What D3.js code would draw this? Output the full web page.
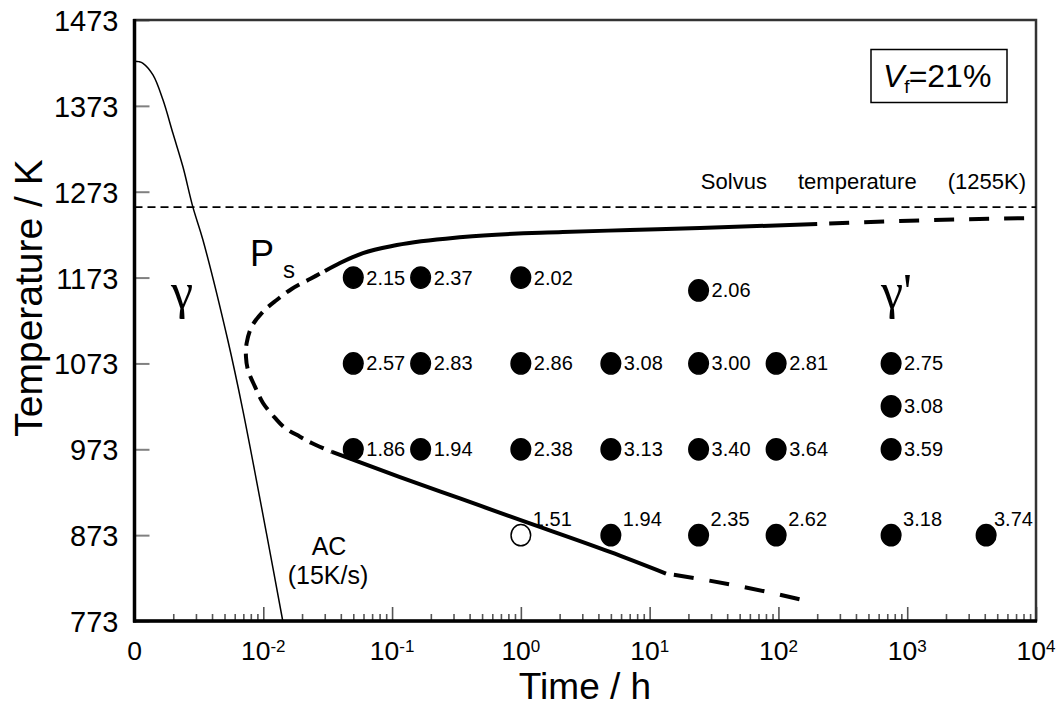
<!DOCTYPE html>
<html><head><meta charset="utf-8">
<script src="https://cdn.jsdelivr.net/npm/d3@7"></script>
<style>
body{margin:0;background:#fff}
svg{display:block}
text{font-family:"Liberation Sans",Arial,Helvetica,sans-serif;fill:#000}
</style>
</head><body>
<svg id="chart" width="1063" height="707"></svg>
<script>
// ---------------- data ----------------
const xDomain = [0.001, 10000];           // "0" is drawn at 10^-3
const yDomain = [773, 1473];
const yTickValues = [773, 873, 973, 1073, 1173, 1273, 1373, 1473];
const xMajorValues = [0.001, 0.01, 0.1, 1, 10, 100, 1000, 10000];
const xMajorBase = ["0", "10", "10", "10", "10", "10", "10", "10"];
const xMajorExp  = ["", "-2", "-1", "0", "1", "2", "3", "4"];

const solvusTemp = 1255;

// air cooling curve (15 K/s): [time h, temperature K]
const acCurve = [[0.001,1425],[0.00108,1424.5],[0.001164,1422.6],[0.001391,1409],[0.001663,1380],[0.001988,1341],
  [0.002377,1302],[0.002841,1255],[0.003396,1217],[0.005305,1100],[0.00693,1019],[0.01065,873],[0.01417,773]];

// Ps precipitation start curve
const psUpperSolid = [[0.0301,1180.7],[0.0394,1190],[0.0594,1201.6],[0.109,1210.9],[0.355,1220.3],
  [2.12,1226],[7.03,1228.4],[24.6,1230.7],[200,1235.4]];
const psUpperDashed = [[200,1235.4],[877,1238.9],[10000,1242.4]];
const psNose = [[0.0301,1180.7],[0.02305,1171.3],[0.01661,1159.7],[0.01271,1146.9],[0.009947,1133.3],
  [0.008128,1115.8],[0.00743,1096.8],[0.007336,1080.8],[0.007605,1065.4],[0.00862,1045.9],
  [0.009947,1026.9],[0.01233,1009.5],[0.01474,997.8],[0.01928,987.7],[0.02375,980.3],[0.03415,969.9]];
const psLowerSolid = [[0.03415,969.9],[0.1151,940.7],[0.3366,915.7],[0.984,890.7],[4.918,853.4],[13.39,828.2]];
const psLowerDashed = [[13.39,828.2],[24.6,821.9],[80.9,807.1],[146.9,798.3]];

// experimental points
const ptTime   = [0.05,0.1667,1,24,
                  0.05,0.1667,1,5,24,96,750,
                  750,
                  0.05,0.1667,1,5,24,96,750,
                  1,5,24,96,750,4100];
const ptTemp   = [1173,1173,1173,1158,
                  1073,1073,1073,1073,1073,1073,1073,
                  1023,
                  973,973,973,973,973,973,973,
                  873,873,873,873,873,873];
const ptValue  = ["2.15","2.37","2.02","2.06",
                  "2.57","2.83","2.86","3.08","3.00","2.81","2.75",
                  "3.08",
                  "1.86","1.94","2.38","3.13","3.40","3.64","3.59",
                  "1.51","1.94","2.35","2.62","3.18","3.74"];
const ptFilled = [1,1,1,1, 1,1,1,1,1,1,1, 1, 1,1,1,1,1,1,1, 0,1,1,1,1,1];

// ---------------- drawing ----------------
const svg = d3.select("#chart");
const x = d3.scaleLog().domain(xDomain).range([134.5, 1036]);
const y = d3.scaleLinear().domain(yDomain).range([621, 20]);

// y axis ticks (inward)
const yAxis = d3.axisLeft(y).tickValues(yTickValues).tickSizeInner(-15).tickSizeOuter(0).tickPadding(16).tickFormat(d3.format("d"));
const gy = svg.append("g").attr("transform", "translate(134.5,0)").call(yAxis);
gy.select(".domain").remove();
gy.selectAll(".tick line").attr("stroke", "#808080").attr("stroke-width", 2);
gy.selectAll(".tick text").attr("font-size", 29).attr("dy", "0.36em")
  .style("font-family", '"Liberation Sans",Arial,sans-serif');

// x axis ticks (inward) - minor + major
const allX = x.ticks();
const isMajor = d => Math.abs(Math.log10(d) - Math.round(Math.log10(d))) < 1e-9;
const xAxis = d3.axisBottom(x).tickValues(allX).tickSizeOuter(0).tickFormat("");
const gx = svg.append("g").attr("transform", "translate(0,621)").call(xAxis);
gx.select(".domain").remove();
gx.selectAll(".tick line")
  .attr("y2", d => isMajor(d) ? -14 : -7)
  .attr("stroke", "#555").attr("stroke-width", 1.6);

// x tick labels with superscripts
const xl = svg.append("g");
xMajorValues.forEach((v, i) => {
  const t = xl.append("text").attr("x", x(v)).attr("y", 660).attr("text-anchor", "middle").attr("font-size", 26.5);
  t.append("tspan").text(xMajorBase[i]);
  if (xMajorExp[i]) t.append("tspan").attr("dy", -8).attr("font-size", 17).text(xMajorExp[i]);
});

// frame
svg.append("rect").attr("x", x(xDomain[0])).attr("y", y(yDomain[1]))
  .attr("width", x(xDomain[1]) - x(xDomain[0])).attr("height", y(yDomain[0]) - y(yDomain[1]))
  .attr("fill", "none").attr("stroke", "#333").attr("stroke-width", 2.5);
svg.append("line").attr("x1", x(xDomain[0])).attr("x2", x(xDomain[0])).attr("y1", y(yDomain[1]) - 1).attr("y2", y(yDomain[0]) + 1.5)
  .attr("stroke", "#000").attr("stroke-width", 3.5);
svg.append("line").attr("x1", x(xDomain[0]) - 1.5).attr("x2", x(xDomain[1]) + 1).attr("y1", y(yDomain[0])).attr("y2", y(yDomain[0]))
  .attr("stroke", "#000").attr("stroke-width", 3.5);

// solvus line
svg.append("line").attr("x1", x(xDomain[0])).attr("x2", x(xDomain[1]))
  .attr("y1", y(solvusTemp)).attr("y2", y(solvusTemp))
  .attr("stroke", "#000").attr("stroke-width", 1.8).attr("stroke-dasharray", "8,5");
svg.append("text").attr("x", 1026).attr("y", 189).attr("text-anchor", "end").attr("font-size", 22)
  .attr("word-spacing", 25).text("Solvus temperature (1255K)");

// curves
const lineCR = d3.line().x(d => x(d[0])).y(d => y(d[1])).curve(d3.curveCatmullRom.alpha(0.5));
const lineM = d3.line().x(d => x(d[0])).y(d => y(d[1])).curve(d3.curveMonotoneX);
svg.append("path").datum(acCurve).attr("d", lineCR).attr("fill", "none").attr("stroke", "#000").attr("stroke-width", 1.5);
svg.append("path").datum(psUpperSolid).attr("d", lineM).attr("fill", "none").attr("stroke", "#000").attr("stroke-width", 4);
svg.append("path").datum(psUpperDashed).attr("d", lineM).attr("fill", "none").attr("stroke", "#000").attr("stroke-width", 4).attr("stroke-dasharray", "20,15").attr("stroke-dashoffset", -12);
svg.append("path").datum(psNose).attr("d", lineCR).attr("fill", "none").attr("stroke", "#000").attr("stroke-width", 4).attr("stroke-dasharray", "15,8").attr("stroke-dashoffset", -6);
svg.append("path").datum(psLowerSolid).attr("d", lineM).attr("fill", "none").attr("stroke", "#000").attr("stroke-width", 4);
svg.append("path").datum(psLowerDashed).attr("d", lineM).attr("fill", "none").attr("stroke", "#000").attr("stroke-width", 4).attr("stroke-dasharray", "20,16").attr("stroke-dashoffset", -8);

// points
const pts = ptTime.map((t, i) => ({t, T: ptTemp[i], v: ptValue[i], f: ptFilled[i]}));
const gp = svg.append("g");
gp.selectAll("ellipse").data(pts).join("ellipse")
  .attr("cx", d => x(d.t)).attr("cy", d => y(d.T)).attr("rx", 9.8).attr("ry", 10.6)
  .attr("fill", d => d.f ? "#000" : "#fff").attr("stroke", "#000").attr("stroke-width", 1.5);
gp.selectAll("text").data(pts).join("text")
  .attr("font-size", 20)
  .attr("x", d => {
    const above = d.T <= 873;
    let px = x(d.t) + (above ? 12 : 13);
    const w = 39;
    if (px + w > x(xDomain[1]) - 3) px = x(xDomain[1]) - 3 - w;
    return px;
  })
  .attr("y", d => d.T <= 873 ? y(d.T) - 9 : y(d.T) + 7)
  .text(d => d.v);

// region labels
svg.append("text").attr("x", 171).attr("y", 308).attr("font-size", 50)
  .style("font-family", '"Liberation Serif","Times New Roman",serif').text("γ");
svg.append("text").attr("x", 881).attr("y", 308).attr("font-size", 50)
  .style("font-family", '"Liberation Serif","Times New Roman",serif').text("γ'");
const ps = svg.append("text").attr("x", 250).attr("y", 266).attr("font-size", 36);
ps.append("tspan").text("P");
ps.append("tspan").attr("x", 283).attr("y", 278).attr("font-size", 24).text("s");
svg.append("text").attr("x", 329).attr("y", 555).attr("text-anchor", "middle").attr("font-size", 25).text("AC");
svg.append("text").attr("x", 328).attr("y", 584).attr("text-anchor", "middle").attr("font-size", 25).text("(15K/s)");

// Vf box
svg.append("rect").attr("x", 871).attr("y", 49.5).attr("width", 136).attr("height", 53)
  .attr("fill", "#fff").attr("stroke", "#000").attr("stroke-width", 1.5);
const vf = svg.append("text").attr("x", 883).attr("y", 87).attr("font-size", 32);
vf.append("tspan").attr("font-style", "italic").text("V");
vf.append("tspan").attr("font-size", 19).attr("dy", 6).attr("dx", 0).text("f");
vf.append("tspan").attr("dy", -6).attr("dx", -1).text("=21%");

// axis titles
svg.append("text").attr("transform", "translate(42,298) rotate(-90)").attr("text-anchor", "middle")
  .attr("font-size", 39).text("Temperature / K");
svg.append("text").attr("x", 585).attr("y", 699).attr("text-anchor", "middle")
  .attr("font-size", 37).text("Time / h");
</script>
</body></html>
